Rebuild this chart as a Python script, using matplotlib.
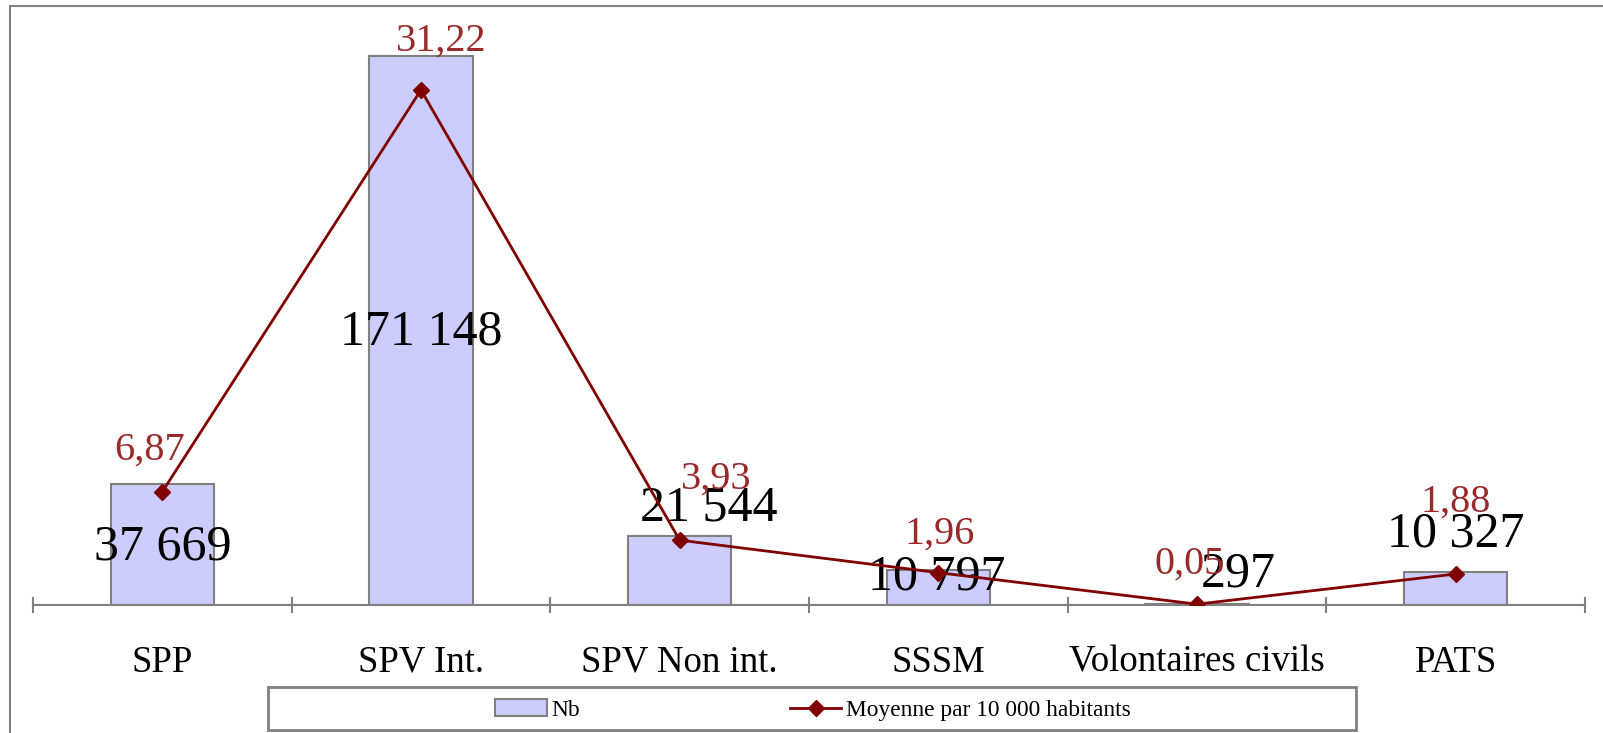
import matplotlib.pyplot as plt
import matplotlib.patches as mpatches
import matplotlib.lines as mlines
import numpy as np

plt.rcParams['font.family'] = ['Liberation Serif', 'DejaVu Serif']

categories = ['SPP', 'SPV Int.', 'SPV Non int.', 'SSSM', 'Volontaires civils', 'PATS']
nb = [37669, 171148, 21544, 10797, 297, 10327]
nb_labels = ['37 669', '171 148', '21 544', '10 797', '297', '10 327']
moyenne = [6.87, 31.22, 3.93, 1.96, 0.05, 1.88]
moyenne_labels = ['6,87', '31,22', '3,93', '1,96', '0,05', '1,88']

# where Excel had put the data labels (pixels from the data point)
nb_offsets = [(0, -63), (0, -276), (29, 28), (-2, -7), (41, 30), (0, 38)]
moy_offsets = [(-13, 42), (20, 49), (37, 61), (1, 39), (-7, 40), (0, 72)]

W, H = 1603, 733
fig = plt.figure(figsize=(W / 100, H / 100), dpi=100)
ax = fig.add_axes([33 / W, 1 - 605 / H, (1585 - 33) / W, (605 - 27.6) / H])

x = np.arange(len(categories))
ax.bar(x, nb, width=0.4, color='#CCCCFF', edgecolor='#808080', linewidth=1.5, zorder=2)
ax.set_xlim(-0.5, len(categories) - 0.5)
ax.set_ylim(0, 180000)

for s in ['top', 'left', 'right']:
    ax.spines[s].set_visible(False)
ax.spines['bottom'].set_color('#808080')
ax.spines['bottom'].set_linewidth(1.5)
ax.set_yticks([])
ax.set_xticks(x)
ax.set_xticklabels(categories, fontsize=26.5)
ax.tick_params(axis='x', which='major', length=0, pad=29)
ax.set_xticks(np.arange(len(categories) + 1) - 0.5, minor=True)
ax.tick_params(axis='x', which='minor', direction='inout', length=12, width=1.5, color='#808080')

for i in range(len(nb)):
    ax.annotate(nb_labels[i], (x[i], nb[i]), xytext=nb_offsets[i], textcoords='offset pixels',
                ha='center', va='center', fontsize=36, color='black', zorder=5)

ax2 = ax.twinx()
ax2.plot(x, moyenne, color='#800000', linewidth=2, marker='D', markersize=8, zorder=4)
ax2.set_ylim(0, 35)
ax2.set_yticks([])
for s in ax2.spines.values():
    s.set_visible(False)

for i in range(len(moyenne)):
    ax2.annotate(moyenne_labels[i], (x[i], moyenne[i]), xytext=moy_offsets[i], textcoords='offset pixels',
                 ha='center', va='center', fontsize=29, color='#9A2A2A')

# outer chart border (right and bottom edges are cut off in the original)
fig.patches.append(mpatches.Rectangle((10 / W, -0.1), 1.2, 1 - 6 / H + 0.1, transform=fig.transFigure,
                                      fill=False, edgecolor='#808080', linewidth=1.5))

# legend box
fig.patches.append(mpatches.Rectangle((268 / W, 3 / H), (1356 - 268) / W, (46 - 3) / H,
                                      transform=fig.transFigure, fill=False,
                                      edgecolor='#808080', linewidth=2))
h1 = mpatches.Patch(facecolor='#CCCCFF', edgecolor='#808080', linewidth=1.5)
h2 = mlines.Line2D([], [], color='#800000', linewidth=2, marker='D', markersize=8)
fig.legend([h1, h2], ['Nb', 'Moyenne par 10 000 habitants'], loc='center',
           bbox_to_anchor=(813 / W, 1 - 710 / H), ncol=2, frameon=False, fontsize=16.8,
           columnspacing=9.0, handlelength=2.2, handletextpad=0.2)

fig.savefig('out.png', dpi=100)
